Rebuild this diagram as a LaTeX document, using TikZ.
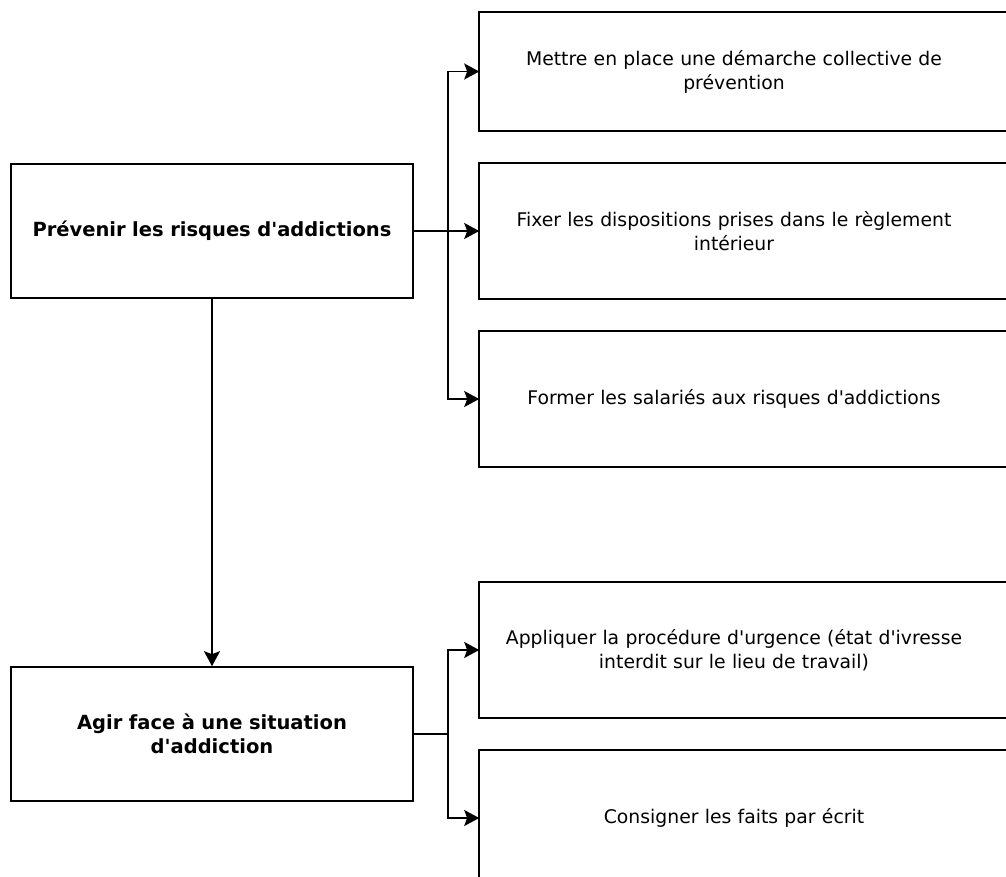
\documentclass[tikz,border=0pt]{standalone}
\usepackage{fontspec}
\setmainfont{DejaVu Sans}
\usepackage{tikz}
\usetikzlibrary{arrows.meta}
\tikzset{>={Stealth[length=15pt,width=16pt,inset=3pt]}}
\newcommand{\ap}{\textquotesingle}

\begin{document}
\begin{tikzpicture}[x=1pt, y=-1pt, line width=1.6pt]
\tikzset{lbox/.style={draw, minimum width=402pt, minimum height=134pt, text width=380pt, align=center, font=\fontsize{19.5}{24}\selectfont\bfseries}}
\tikzset{rbox/.style={minimum width=508pt, minimum height=134pt, text width=490pt, align=center, font=\fontsize{18.8}{24}\selectfont}}
    \clip (0,0) rectangle (1006,877);
    \fill[white] (0,0) rectangle (1006,877);

    \node[lbox] (Prev) at (212,231) {Prévenir les risques d\ap addictions};
    \node[lbox] (Agir) at (212,734) {Agir face à une situation\\d\ap addiction};

    \node[rbox, minimum height=117pt] (M1) at (734,71.5) {Mettre en place une démarche collective de\\prévention};
    \node[rbox] (M2) at (734,231) {Fixer les dispositions prises dans le règlement\\intérieur};
    \node[rbox] (M3) at (734,399) {Former les salariés aux risques d\ap addictions};

    \node[rbox] (M4) at (734,650) {Appliquer la procédure d\ap urgence (état d\ap ivresse\\interdit sur le lieu de travail)};
    \node[rbox] (M5) at (734,818) {Consigner les faits par écrit};

    % boxes run past the right edge
    \foreach \n in {M1,M2,M3,M4,M5}
        \draw ([xshift=80pt]\n.north east) -- (\n.north west) -- (\n.south west) -- ([xshift=80pt]\n.south east);
% % % % % % % % % % % % % % % % % % %
    \draw[->] (Prev.east) -- (M2.west);
    \draw[->] (Prev.east) -- ++(34,0) |- (M1.west);
    \draw[->] (Prev.east) -- ++(34,0) |- (M3.west);

    \draw[->] (Prev.south) -- (Agir.north);

    \draw[->] (Agir.east) -- ++(34,0) |- (M4.west);
    \draw[->] (Agir.east) -- ++(34,0) |- (M5.west);
\end{tikzpicture}
\end{document}
